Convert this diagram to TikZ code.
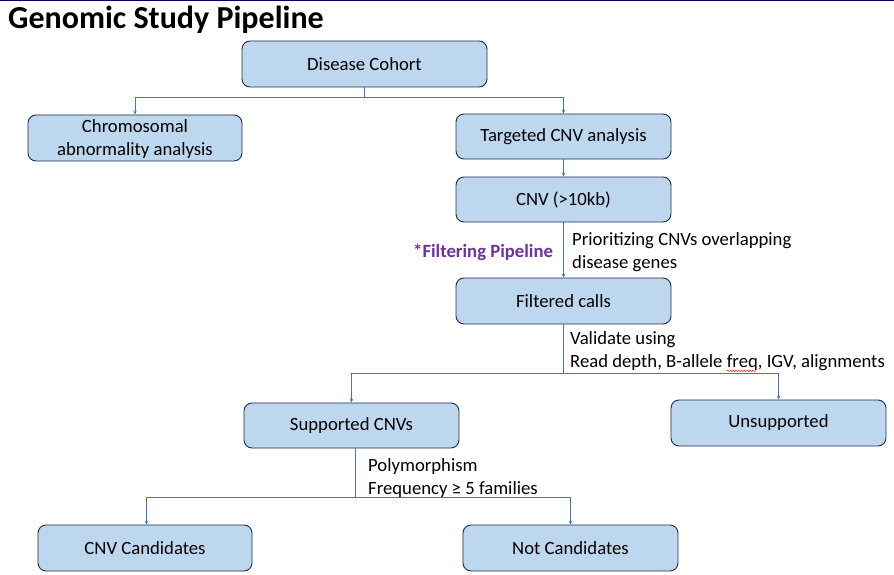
\documentclass[tikz,border=0pt]{standalone}
\usepackage{fontspec}
\setmainfont{Carlito}
\usetikzlibrary{arrows.meta,decorations.pathmorphing}
\definecolor{boxfill}{HTML}{BDD7EE}
\definecolor{boxline}{HTML}{1F2D4A}
\definecolor{conn}{HTML}{4472C4}
\definecolor{purp}{HTML}{7030A0}
\definecolor{topline}{HTML}{000060}
\begin{document}
\begin{tikzpicture}[x=1pt,y=-1pt,
  stepbox/.style={draw=boxline,line width=0.9pt,fill=boxfill,rounded corners=8pt,
    minimum width=215pt,minimum height=46pt,align=center,inner sep=0pt,
    font=\fontsize{18.7}{23}\selectfont},
  conline/.style={draw=conn,line width=0.8pt},
  arr/.style={conline,-{Stealth[length=4pt,width=3.5pt]}},
  lbl/.style={anchor=west,align=left,inner sep=0pt,font=\fontsize{18.7}{23}\selectfont}]
\useasboundingbox (0,0) rectangle (894,575);
\fill[white] (0,0) rectangle (894,575);
\draw[topline,line width=1.5pt] (0,0.75) -- (894,0.75);
\node[anchor=west,inner sep=0pt,font=\bfseries\fontsize{32}{34}\selectfont] (title) at (8,19.5) {Genomic Study Pipeline};

\node[stepbox,minimum width=245pt] (cohort) at (364.5,64) {Disease Cohort};
\node[stepbox,minimum width=214pt] (chrom) at (135,138) {\rule{0pt}{16pt}Chromosomal\\abnormality analysis};
\node[stepbox,minimum height=45pt] (target) at (563.5,136.5) {Targeted CNV analysis};
\node[stepbox,minimum height=45pt] (cnv) at (563.5,199.5) {CNV (>10kb)};
\node[stepbox] (filt) at (563.5,301) {Filtered calls};
\node[stepbox,minimum height=45pt] (supp) at (351.5,425.5) {Supported CNVs};
\node[stepbox] (unsupp) at (778.5,423) {Unsupported};
\node[stepbox,minimum width=214pt] (cand) at (145,548) {CNV Candidates};
\node[stepbox] (notcand) at (570.5,548) {Not Candidates};

\coordinate (j1) at (364.5,97);
\draw[conline] (cohort.south) -- (j1);
\draw[arr] (j1) -| (chrom.north);
\draw[arr] (j1) -| (target.north);
\draw[arr] (target) -- (cnv);
\draw[arr] (cnv) -- (filt);

\coordinate (j2) at (563.5,373);
\draw[conline] (filt.south) -- (j2);
\draw[arr] (j2) -| (supp.north);
\draw[arr] (j2) -| (unsupp.north);

\coordinate (j3) at (355,497);
\draw[conline] (supp.south -| j3) -- (j3);
\draw[arr] (j3) -| ([xshift=1.5pt]cand.north);
\draw[arr] (j3) -| (notcand.north);

\node[lbl] (prio) at (572,252) {Prioritizing CNVs overlapping\\disease genes};
\node[anchor=west,inner sep=0pt,text=purp,font=\bfseries\fontsize{18.7}{20}\selectfont] (fp) at (413,252) {*Filtering Pipeline};
\node[lbl] (valid) at (570,351) {Validate using\\Read depth, B-allele \makebox[0pt][l]{\tikz[baseline,overlay]\draw[red,line width=0.45pt,decorate,decoration={snake,amplitude=0.7pt,segment length=2.8pt}] (0,-3.5pt) -- (29pt,-3.5pt);}freq, IGV, alignments};
\node[lbl] (poly) at (368,478) {Polymorphism\\Frequency ≥ 5 families};
\end{tikzpicture}
\end{document}
